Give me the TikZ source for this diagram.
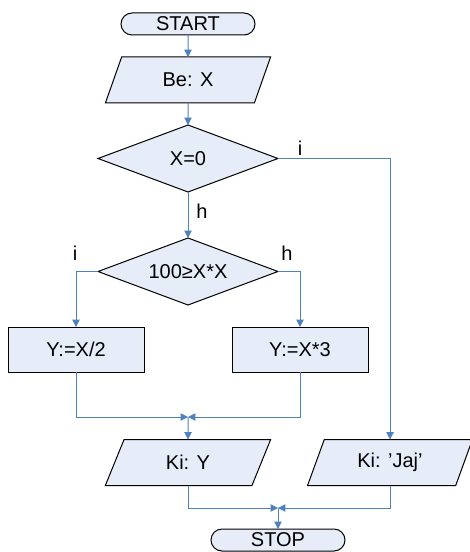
\documentclass[tikz,border=0pt]{standalone}
\usepackage{fontspec}
\setmainfont{Liberation Sans}
\usetikzlibrary{shapes.geometric,arrows.meta}
\definecolor{boxfill}{RGB}{230,236,248}
\definecolor{conn}{RGB}{79,129,189}
\begin{document}
\begin{tikzpicture}[x=0.75pt,y=-0.75pt,
  every node/.style={font=\fontsize{15}{17}\selectfont, inner sep=0pt, outer sep=0pt},
  shapebase/.style={draw=black, fill=boxfill, line width=0.75pt},
  terminal/.style={shapebase, rectangle, rounded corners=8.25pt, minimum width=100.5pt, minimum height=16.5pt},
  iobox/.style={shapebase, trapezium, trapezium left angle=66, trapezium right angle=114,
    trapezium stretches=true, minimum width=124.5pt, minimum height=34.5pt},
  procbox/.style={shapebase, rectangle, minimum width=102pt, minimum height=33.75pt},
  decision/.style={shapebase, diamond, aspect=2.7, minimum width=135pt, minimum height=50.25pt},
  conn/.style={draw=conn, line width=0.75pt},
  arr/.style={conn, -{Triangle[length=5.5pt,width=5.5pt]}},
  lbl/.style={}
]
\useasboundingbox (0,0) rectangle (470,552);

\node[terminal] (start) at (188,24) {START};
\node[iobox] (be) at (188,80) {Be: X};
\node[decision] (d1) at (188,158.5) {X=0};
\node[decision] (d2) at (188,271.5) {100≥X*X};
\node[procbox] (y1) at (76,349.5) {Y:=X/2};
\node[procbox] (y2) at (300,349.5) {Y:=X*3};
\node[iobox] (ky) at (188,462.5) {Ki: Y};
\node[iobox] (jaj) at (390,462.5) {Ki: 'Jaj'};
\node[terminal] (stop) at (278,540) {STOP};

\coordinate (j1) at (188,417);
\coordinate (j2) at (278,508);

\node[lbl] (li1) at (300,148) {i};
\node[lbl] (lh1) at (202,211) {h};
\node[lbl] (li2) at (75,253.5) {i};
\node[lbl] (lh2) at (287,253.5) {h};

\draw[arr] (start.south) -- (be.north);
\draw[arr] (be.south) -- (d1.north);
\draw[arr] (d1.south) -- (d2.north);
\draw[arr] (d1.east) -| (jaj.north);
\draw[arr] (d2.west) -| (y1.north);
\draw[arr] (d2.east) -| (y2.north);
\draw[arr] (y1.south) |- (j1);
\draw[arr] (y2.south) |- (j1);
\draw[arr] (j1) -- (ky.north);
\draw[arr] (ky.south) |- (j2);
\draw[arr] (jaj.south) |- (j2);
\draw[arr] (j2) -- (stop.north);
\end{tikzpicture}
\end{document}
